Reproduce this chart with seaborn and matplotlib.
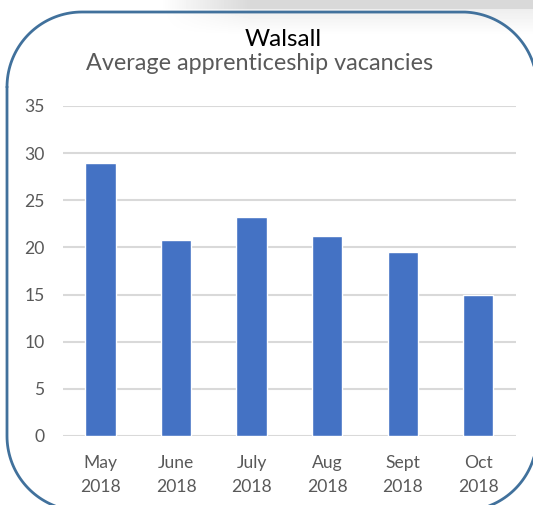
import numpy as np
import pandas as pd
import matplotlib
matplotlib.use("Agg")
import matplotlib.pyplot as plt
import seaborn as sns

# data
months = ["May\n2018", "June\n2018", "July\n2018", "Aug\n2018", "Sept\n2018", "Oct\n2018"]
vacancies = [29.0, 20.8, 23.2, 21.2, 19.5, 15.0]
y_ticks = [0, 5, 10, 15, 20, 25, 30, 35]
title = "Walsall"
subtitle = "Average apprenticeship vacancies"

sns.set_theme(style="white")
plt.rcParams['font.family'] = ['Lato', 'DejaVu Sans']

W, H = 533, 505
fig = plt.figure(figsize=(W / 100, H / 100), dpi=100)

# light grey shadow strip at the top
sh = fig.add_axes([0, 1 - 40 / H, 1, 40 / H], zorder=0)
sh.axis("off")
xs = np.arange(W)[None, :]
ys = np.arange(40)[:, None]
hx = np.clip((xs - 160) / 90.0, 0, 1)
vy = np.where(ys < 9, 1.0, np.clip(0.45 * (35 - ys) / 26.0, 0, 1))
img = 1 - 0.15 * hx * vy
sh.imshow(img, cmap="gray", vmin=0, vmax=1, aspect="auto", interpolation="bilinear")

# rounded border in figure pixel coordinates
bx0, by0, bx1, by1, r = 7, 12, 537, 511, 75
def arc(cx, cy, a0, a1):
    t = np.radians(np.linspace(a0, a1, 40))
    return cx + r * np.cos(t), cy + r * np.sin(t)
segs = [arc(bx0 + r, by0 + r, 180, 270), arc(bx1 - r, by0 + r, 270, 360),
        arc(bx1 - r, by1 - r, 0, 90), arc(bx0 + r, by1 - r, 90, 180)]
px = np.concatenate([s[0] for s in segs] + [segs[0][0][:1]])
py = np.concatenate([s[1] for s in segs] + [segs[0][1][:1]])
fig.add_artist(plt.Line2D(px / W, 1 - py / H, transform=fig.transFigure,
                          color="#41719C", linewidth=2.0, zorder=1))

left, right, top, bottom = 62.7, 516.0, 106.0, 436.0
ax = fig.add_axes([left / W, (H - bottom) / H, (right - left) / W, (bottom - top) / H], zorder=2)
ax.patch.set_alpha(0)

df = pd.DataFrame({"month": months, "vacancies": vacancies})
sns.barplot(data=df, x="month", y="vacancies", color="#4472C4", saturation=1,
            width=0.4, ax=ax, zorder=3)

ax.set_ylim(0, 35)
ax.set_xlim(-0.5, 5.5)
ax.set_yticks(y_ticks)
ax.yaxis.grid(True, color="#D9D9D9", linewidth=1.5, zorder=0)
ax.set_axisbelow(True)
for s in ax.spines.values():
    s.set_visible(False)
ax.set_xlabel("")
ax.set_ylabel("")
ax.tick_params(axis="y", length=0, pad=13, labelsize=12.6, labelcolor="#595959")
ax.tick_params(axis="x", length=0, pad=14, labelsize=12.6, labelcolor="#595959")
for lbl in ax.get_xticklabels():
    lbl.set_linespacing(1.6)

fig.text(283 / W, 1 - 40 / H, title, ha="center", va="center", fontsize=17.5, color="black")
fig.text(260 / W, 1 - 64 / H, subtitle, ha="center", va="center", fontsize=16.8, color="#595959")

fig.savefig("out.png", dpi=100)
